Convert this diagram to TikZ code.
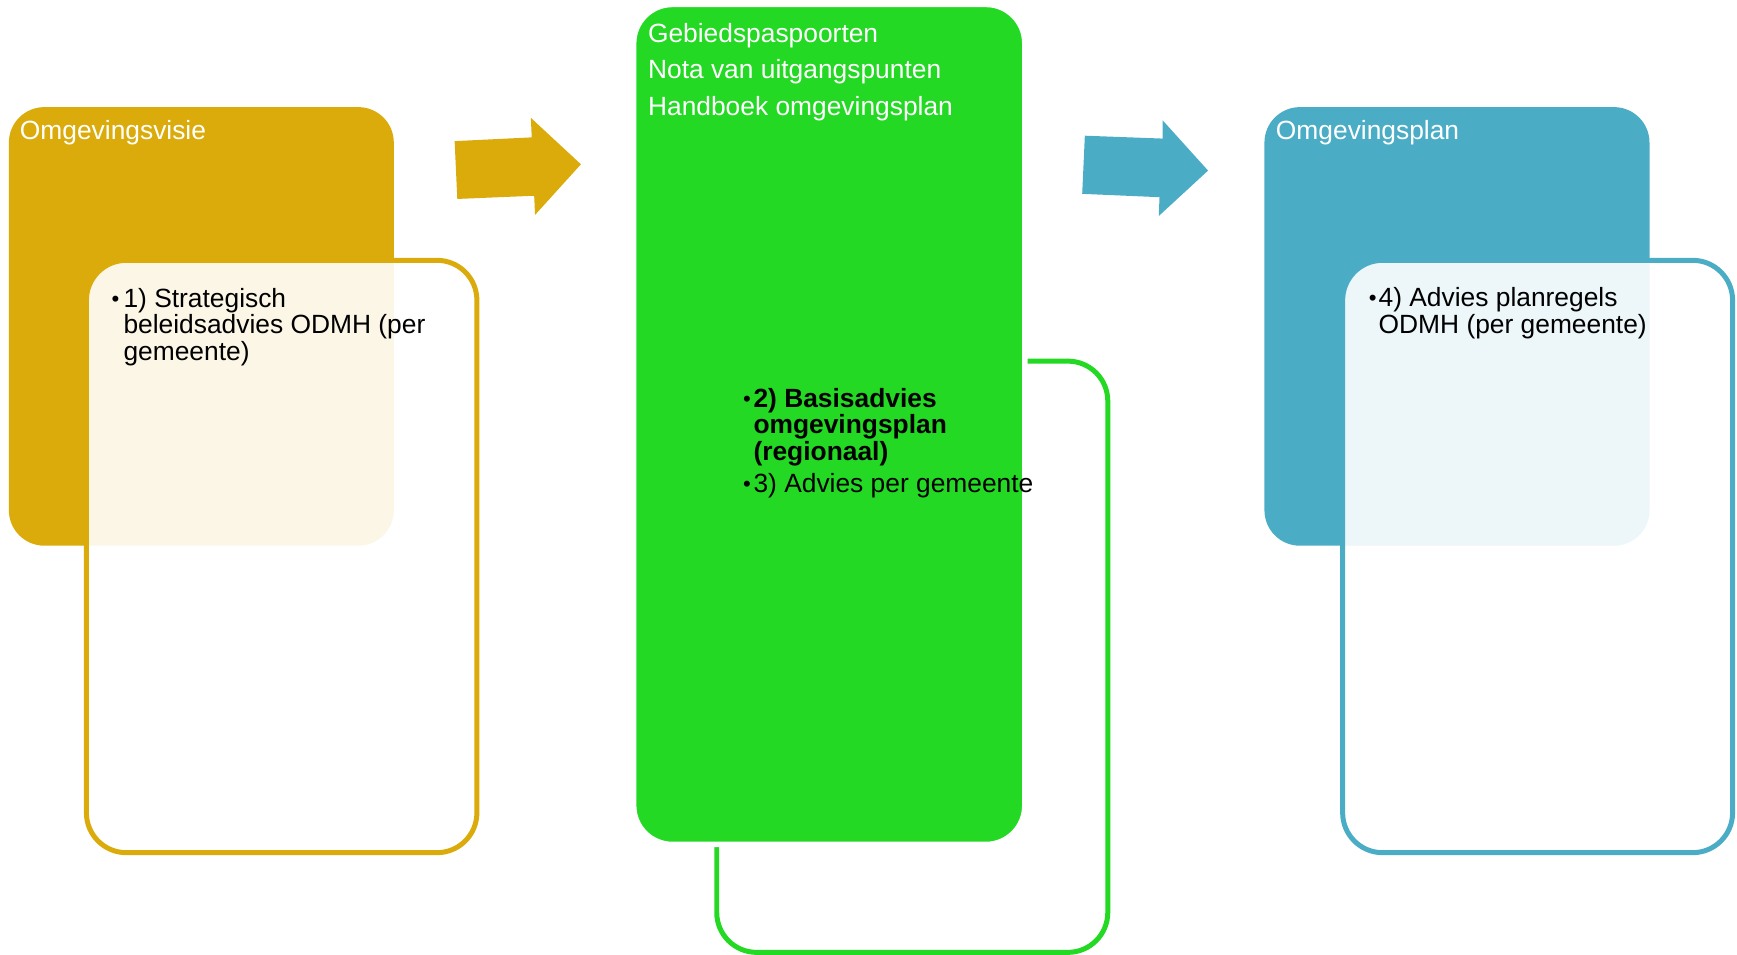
\documentclass[tikz,border=0pt]{standalone}
\usepackage{fontspec}
\setmainfont{Liberation Sans}
\definecolor{gold}{RGB}{218,171,10}
\definecolor{grn}{RGB}{35,217,35}
\definecolor{blu}{RGB}{75,172,198}
\begin{document}
\begin{tikzpicture}[x=1pt,y=-1pt,
  solidbox/.style={rounded corners=32pt, inner sep=0pt, outer sep=0pt, anchor=north west},
  openbox/.style={rounded corners=36pt, inner sep=0pt, outer sep=0pt, anchor=north west,
      line width=4.5pt, fill=white, fill opacity=0.9},
  txt/.style={inner sep=0pt, anchor=base west, font=\fontsize{23.8}{24}\selectfont},
  bul/.style={inner sep=0pt, anchor=base west, font=\fontsize{20}{24}\selectfont},
  head/.style={txt, text=white}]
\useasboundingbox (0,0) rectangle (1568,861.2);
% ---- left group
\node[solidbox, fill=gold, minimum width=347.5pt, minimum height=395.9pt] (visie) at (8,96.7) {};
\node[openbox, draw=gold, minimum width=352.5pt, minimum height=534.7pt] (adv1) at (78,235) {};
\node[head] (visieT) at (17.8,125.8) {Omgevingsvisie};
\node[bul] (b1) at (100.5,276.3) {•};
\node[txt] (a1) at (111.3,277.3) {1) Strategisch};
\node[txt] (a2) at (111.3,301.5) {beleidsadvies ODMH (per};
\node[txt] (a3) at (111.3,325.5) {gemeente)};
% ---- arrow 1
\fill[gold] (410.4,127.4) -- (480,124) -- (479.2,106.4) -- (524.4,148.3) -- (483,194) -- (482.2,176.7) -- (412.8,179.6) -- cycle;
% ---- middle group
\node[openbox, draw=grn, fill opacity=0, minimum width=353pt, minimum height=533.7pt] (adv2) at (647,326) {};
\node[solidbox, rounded corners=35pt, fill=grn, draw=white, line width=5pt, minimum width=353.1pt, minimum height=758.3pt] (gebied) at (572,4) {};
\node[head] (g1) at (584.8,38) {Gebiedspaspoorten};
\node[head] (g2) at (584.8,71.3) {Nota van uitgangspunten};
\node[head] (g3) at (584.8,104.7) {Handboek omgevingsplan};
\node[bul] (b2) at (670.6,366.6) {•};
\node[txt, font=\fontsize{23.8}{24}\selectfont\bfseries] (c1) at (680,367.6) {2) Basisadvies};
\node[txt, font=\fontsize{23.8}{24}\selectfont\bfseries] (c2) at (680,391.7) {omgevingsplan};
\node[txt, font=\fontsize{23.8}{24}\selectfont\bfseries] (c3) at (680,415.3) {(regionaal)};
\node[bul] (b3) at (670.6,444) {•};
\node[txt] (c4) at (680,445) {3) Advies per gemeente};
% ---- arrow 2
\fill[blu] (979.3,122.5) -- (1049.5,125.1) -- (1049.5,108.6) -- (1090.5,154) -- (1046,195) -- (1046.7,178) -- (976.9,175) -- cycle;
% ---- right group
\node[solidbox, fill=blu, minimum width=347.6pt, minimum height=395.9pt] (plan) at (1141.4,96.7) {};
\node[openbox, draw=blu, minimum width=352pt, minimum height=534.7pt] (adv4) at (1212,235) {};
\node[head] (planT) at (1151.6,125.8) {Omgevingsplan};
\node[bul] (b4) at (1235.5,275.6) {•};
\node[txt] (d1) at (1244.3,276.6) {4) Advies planregels};
\node[txt] (d2) at (1244.3,301.5) {ODMH (per gemeente)};
\end{tikzpicture}
\end{document}
